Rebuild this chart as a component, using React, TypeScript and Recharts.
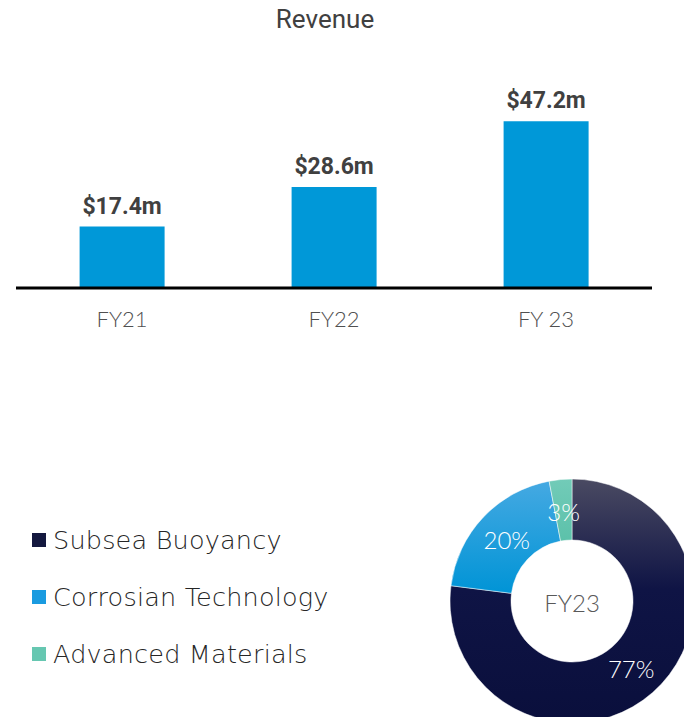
import React from 'react'
import { BarChart, Bar, XAxis, YAxis, LabelList, PieChart, Pie, Cell } from 'recharts'

const years = ['FY21', 'FY22', 'FY 23']
const revenue = [17.4, 28.6, 47.2]

const segments = ['Subsea Buoyancy', 'Corrosian Technology', 'Advanced Materials']
const shares = [77, 20, 3]
const segmentFills = ['url(#gradNavy)', 'url(#gradBlue)', 'url(#gradTeal)']
const legendColors = ['#14183f', '#1a9be0', '#66c7b1']

const barData = years.map((y, i) => ({ year: y, value: revenue[i] }))
const pieData = segments.map((s, i) => ({ name: s, value: shares[i] }))

const RADIAN = Math.PI / 180

const renderPieLabel = (props: any) => {
  const { cx, cy, midAngle, innerRadius, outerRadius, value } = props
  const r = (innerRadius + outerRadius) / 2 - 2
  const x = cx + r * Math.cos(-midAngle * RADIAN)
  const y = cy + r * Math.sin(-midAngle * RADIAN)
  return (
    <text x={x} y={y} fill="#ffffff" fontSize={24} fontFamily="Lato" fontWeight={300} textAnchor="middle" dominantBaseline="central">
      {`${value}%`}
    </text>
  )
}

export default function App() {
  return (
    <div style={{ position: 'absolute', left: 0, top: 0, width: 684, height: 717, overflow: 'hidden', background: '#fff', fontFamily: 'Roboto' }}>
      <div style={{ position: 'absolute', left: 0, top: 4, width: 650, textAlign: 'center', fontSize: 26, color: '#404040', fontFamily: 'Roboto' }}>
        Revenue
      </div>
      <div style={{ position: 'absolute', left: 0, top: 0 }}>
        <BarChart width={684} height={340} data={barData} margin={{ top: 76, right: 32, left: 16, bottom: 0 }} barCategoryGap="30%">
          <XAxis
            dataKey="year"
            axisLine={{ stroke: '#000', strokeWidth: 3 }}
            tickLine={false}
            height={52}
            tickMargin={17}
            tick={{ fill: '#505050', fontSize: 22, fontFamily: 'Lato', fontWeight: 300 }}
          />
          <YAxis hide domain={[0, 60]} />
          <Bar dataKey="value" fill="#0098d8" isAnimationActive={false}>
            <LabelList
              dataKey="value"
              position="top"
              offset={13}
              formatter={(v: number) => `$${v}m`}
              style={{ fill: '#404040', fontSize: 23, fontWeight: 700, fontFamily: 'Roboto' }}
            />
          </Bar>
        </BarChart>
      </div>
      <div style={{ position: 'absolute', left: 32, top: 511 }}>
        {segments.map((s, i) => (
          <div key={s} style={{ display: 'flex', alignItems: 'center', height: 57 }}>
            <span style={{ display: 'inline-block', width: 14, height: 14, background: legendColors[i], marginRight: 7 }} />
            <span style={{ fontSize: 25.5, color: '#262626', fontFamily: 'DejaVu Sans', fontWeight: 200, letterSpacing: 0.2 }}>{s}</span>
          </div>
        ))}
      </div>
      <div style={{ position: 'absolute', left: 0, top: 0 }}>
        <PieChart width={684} height={717} margin={{ top: 0, right: 0, bottom: 0, left: 0 }}>
          <defs>
            <linearGradient id="gradNavy" x1="0" y1="0" x2="0" y2="1">
              <stop offset="0%" stopColor="#4a4a62" />
              <stop offset="45%" stopColor="#0f1445" />
              <stop offset="100%" stopColor="#0a0f3c" />
            </linearGradient>
            <linearGradient id="gradBlue" x1="0" y1="0" x2="0" y2="1">
              <stop offset="0%" stopColor="#45a9e2" />
              <stop offset="100%" stopColor="#0094d6" />
            </linearGradient>
            <linearGradient id="gradTeal" x1="0" y1="0" x2="0" y2="1">
              <stop offset="0%" stopColor="#72cbb8" />
              <stop offset="100%" stopColor="#5cc1aa" />
            </linearGradient>
          </defs>
          <Pie
            data={pieData}
            dataKey="value"
            nameKey="name"
            cx={572}
            cy={601}
            innerRadius={61}
            outerRadius={122}
            startAngle={90}
            endAngle={-270}
            stroke="#ffffff"
            strokeWidth={0.5}
            label={renderPieLabel}
            labelLine={false}
            isAnimationActive={false}
          >
            {pieData.map((d, i) => (
              <Cell key={d.name} fill={segmentFills[i]} />
            ))}
          </Pie>
          <text x={572} y={602} textAnchor="middle" dominantBaseline="central" fill="#595959" fontSize={24} fontFamily="Lato" fontWeight={300}>
            FY23
          </text>
        </PieChart>
      </div>
    </div>
  )
}
